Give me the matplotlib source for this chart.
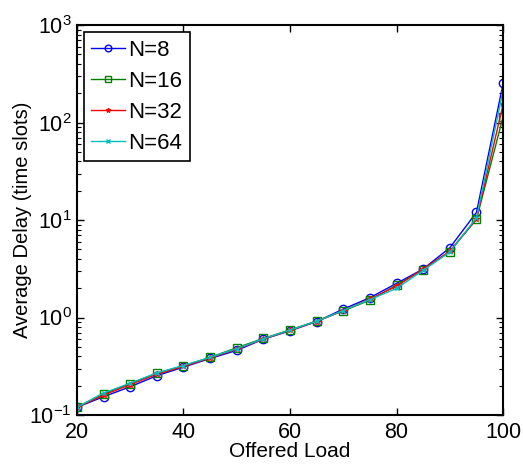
import numpy as np
import matplotlib
matplotlib.use("Agg")
import matplotlib.pyplot as plt
from matplotlib.ticker import LogLocator, FixedLocator

plt.rcParams["font.family"] = ["Liberation Sans", "DejaVu Sans"]
plt.rcParams["mathtext.fontset"] = "custom"
plt.rcParams["mathtext.rm"] = "Liberation Sans"
plt.rcParams["mathtext.it"] = "Liberation Sans"

# offered load (x axis)
load = [20, 25, 30, 35, 40, 45, 50, 55, 60, 65, 70, 75, 80, 85, 90, 95, 100]

# average delay in time slots
delay_n8 = [0.12, 0.154, 0.195, 0.253, 0.31, 0.38, 0.46, 0.6, 0.73, 0.91, 1.22, 1.6, 2.24, 3.15, 5.2, 12.0, 252]
delay_n16 = [0.12, 0.165, 0.21, 0.268, 0.32, 0.39, 0.49, 0.61, 0.745, 0.92, 1.17, 1.51, 2.15, 3.1, 4.75, 10.2, 115]
delay_n32 = [0.12, 0.16, 0.205, 0.262, 0.315, 0.385, 0.475, 0.6, 0.74, 0.91, 1.18, 1.55, 2.1, 3.15, 4.8, 10.3, 154]
delay_n64 = [0.12, 0.168, 0.212, 0.27, 0.322, 0.39, 0.48, 0.605, 0.745, 0.915, 1.18, 1.53, 1.99, 3.05, 4.7, 10.6, 215]

series = [
    ("N=8", delay_n8, "#0000ff", "o", 6),
    ("N=16", delay_n16, "#008000", "s", 6),
    ("N=32", delay_n32, "#ff0000", "*", 4),
    ("N=64", delay_n64, "#00bfbf", "x", 3.5),
]

fig = plt.figure(figsize=(5.23, 4.65), dpi=100)
ax = fig.add_axes([0.147, 0.1075, 0.815, 0.8385])

for label, vals, color, marker, ms in series:
    ax.plot(load, vals, color=color, marker=marker, markersize=ms,
            markerfacecolor="none", markeredgecolor=color, linewidth=1.0,
            markeredgewidth=1.0, label=label)

ax.set_yscale("log")
ax.set_xlim(20, 100)
ax.set_ylim(0.1, 1000)
ax.xaxis.set_major_locator(FixedLocator([20, 40, 60, 80, 100]))
ax.yaxis.set_major_locator(LogLocator(base=10, numticks=10))
ax.yaxis.set_minor_locator(LogLocator(base=10, subs=np.arange(2, 10), numticks=10))

ax.tick_params(which="both", direction="in", top=True, right=True, labelsize=15.5)
ax.tick_params(which="major", length=5, width=1)
ax.tick_params(which="minor", length=3, width=0.8)
ax.tick_params(axis="x", pad=5)
for s in ax.spines.values():
    s.set_linewidth(1.5)

ax.set_xlabel("Offered Load", fontsize=15, labelpad=-1)
ax.set_ylabel("Average Delay (time slots)", fontsize=14.5, labelpad=-2)

leg = ax.legend(loc="upper left", fontsize=16, fancybox=False, framealpha=1,
                edgecolor="black", borderaxespad=0.3, handlelength=1.5,
                handletextpad=0.15, labelspacing=0.45, borderpad=0.35,
                markerscale=0.8)
leg.get_frame().set_linewidth(1.2)

fig.savefig("out.png", dpi=100)
